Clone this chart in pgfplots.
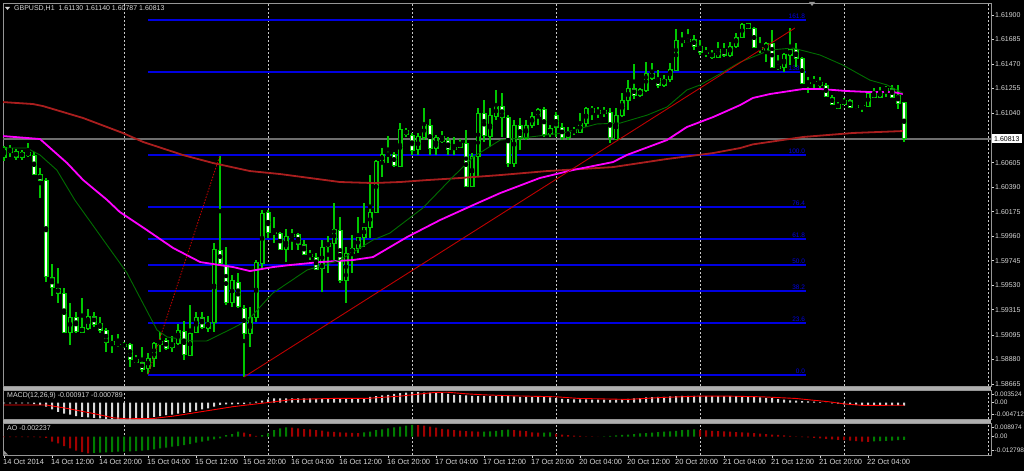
\documentclass[border=0pt]{standalone}
\usepackage{fontspec}
\setmainfont{Liberation Sans}
\usepackage{pgfplots}
\pgfplotsset{compat=1.18}
\usepackage{pgfplotstable}

\definecolor{cgreen}{RGB}{0,200,0}
\definecolor{magen}{RGB}{255,0,255}
\definecolor{maslow}{RGB}{170,30,30}
\definecolor{mafast}{RGB}{0,110,0}
\definecolor{fibblue}{RGB}{0,0,225}
\definecolor{trendred}{RGB}{190,0,0}
\definecolor{framegray}{RGB}{150,150,150}
\definecolor{sepgray}{RGB}{175,175,175}
\definecolor{gridgray}{RGB}{200,200,200}
\definecolor{txtgray}{RGB}{215,215,215}
\definecolor{bidgray}{RGB}{110,110,110}
\definecolor{aogreen}{RGB}{0,125,0}
\definecolor{aored}{RGB}{160,0,0}
\definecolor{macdbar}{RGB}{215,215,215}

% bearish candles (white body): i open high low close
\pgfplotstableread{
i o h l c
5 1.60733 1.60760 1.60654 1.60698
6 1.60707 1.60724 1.60628 1.60654
9 1.60672 1.60698 1.60496 1.60505
10 1.60505 1.60558 1.60294 1.60452
11 1.60452 1.60470 1.59558 1.59602
12 1.59602 1.59716 1.59435 1.59514
13 1.59505 1.59681 1.59374 1.59461
14 1.59461 1.59505 1.59111 1.59119
16 1.59251 1.59295 1.59111 1.59128
19 1.59260 1.59295 1.59163 1.59189
20 1.59198 1.59251 1.59111 1.59137
21 1.59137 1.59155 1.58944 1.59032
22 1.59032 1.59093 1.58935 1.59014
25 1.59014 1.59023 1.58812 1.58883
26 1.58883 1.58918 1.58848 1.58856
27 1.58856 1.58988 1.58769 1.58795
31 1.59049 1.59067 1.58962 1.58979
34 1.59128 1.59216 1.58874 1.58927
37 1.59251 1.59295 1.59146 1.59163
40 1.59839 1.60663 1.59698 1.59725
41 1.59707 1.59865 1.59356 1.59382
43 1.59558 1.59637 1.59330 1.59347
44 1.59330 1.59356 1.58725 1.59111
48 1.60172 1.60189 1.59944 1.59996
49 1.59996 1.60128 1.59900 1.59987
50 1.59987 1.59996 1.59839 1.59847
53 1.59979 1.59987 1.59839 1.59891
54 1.59891 1.59926 1.59795 1.59803
55 1.59803 1.59839 1.59751 1.59786
56 1.59777 1.59812 1.59663 1.59672
60 1.60014 1.60128 1.59549 1.59575
69 1.60681 1.60698 1.60566 1.60584
71 1.60891 1.60909 1.60830 1.60856
72 1.60847 1.60865 1.60672 1.60716
75 1.60935 1.60987 1.60672 1.60733
77 1.60830 1.60882 1.60777 1.60786
78 1.60803 1.60830 1.60672 1.60724
81 1.60777 1.60891 1.60391 1.60400
84 1.61040 1.61154 1.60786 1.60847
87 1.61101 1.61215 1.60830 1.61005
88 1.61005 1.61022 1.60566 1.60602
90 1.60935 1.60996 1.60716 1.60821
94 1.61075 1.61093 1.60830 1.60856
96 1.61022 1.61049 1.60830 1.60917
97 1.60917 1.60952 1.60803 1.60830
102 1.61084 1.61101 1.60979 1.61049
103 1.61066 1.61093 1.60996 1.61040
104 1.61058 1.61093 1.61005 1.61040
105 1.61049 1.61084 1.60777 1.60830
109 1.61259 1.61470 1.61163 1.61198
112 1.61391 1.61478 1.61329 1.61347
113 1.61347 1.61417 1.61259 1.61286
117 1.61680 1.61750 1.61619 1.61663
118 1.61689 1.61777 1.61654 1.61663
119 1.61689 1.61724 1.61593 1.61628
120 1.61628 1.61680 1.61549 1.61575
122 1.61566 1.61593 1.61514 1.61531
124 1.61601 1.61654 1.61531 1.61549
128 1.61821 1.61829 1.61777 1.61785
129 1.61785 1.61794 1.61610 1.61619
130 1.61619 1.61707 1.61566 1.61601
132 1.61654 1.61768 1.61435 1.61443
133 1.61452 1.61549 1.61417 1.61435
136 1.61601 1.61654 1.61443 1.61522
137 1.61522 1.61531 1.61294 1.61303
140 1.61312 1.61356 1.61259 1.61286
141 1.61286 1.61303 1.61180 1.61189
142 1.61180 1.61198 1.61110 1.61119
143 1.61119 1.61136 1.61075 1.61084
145 1.61154 1.61163 1.61084 1.61093
149 1.61215 1.61259 1.61172 1.61180
152 1.61259 1.61286 1.61172 1.61180
153 1.61198 1.61286 1.61075 1.61128
154 1.61130 1.61140 1.60787 1.60813
}\bear

% bullish candles (hollow body)
\pgfplotstableread{
i o h l c
4 1.60654 1.60751 1.60619 1.60742
7 1.60654 1.60716 1.60628 1.60698
8 1.60672 1.60777 1.60654 1.60698
15 1.59119 1.59374 1.59006 1.59251
17 1.59119 1.59417 1.59111 1.59155
18 1.59155 1.59321 1.59137 1.59260
23 1.59014 1.59102 1.58988 1.59014
24 1.58997 1.59032 1.58979 1.59014
28 1.58804 1.58935 1.58751 1.58891
29 1.58891 1.59032 1.58812 1.59023
30 1.59014 1.59119 1.58944 1.59041
32 1.58988 1.59084 1.58944 1.59023
33 1.59023 1.59189 1.59006 1.59137
35 1.58918 1.59356 1.58909 1.59111
36 1.59119 1.59295 1.59111 1.59251
38 1.59155 1.59260 1.59119 1.59207
39 1.59207 1.59900 1.59119 1.59847
42 1.59382 1.59619 1.59339 1.59575
45 1.59111 1.59339 1.58988 1.59251
46 1.59251 1.59751 1.59207 1.59733
47 1.59725 1.60189 1.59681 1.60163
51 1.59847 1.60023 1.59733 1.59953
52 1.59953 1.60023 1.59839 1.59979
57 1.59681 1.59926 1.59470 1.59865
58 1.59874 1.59961 1.59637 1.59900
59 1.59900 1.60251 1.59751 1.60023
61 1.59575 1.59865 1.59374 1.59812
62 1.59812 1.59970 1.59637 1.59856
63 1.59856 1.60128 1.59812 1.59953
64 1.59953 1.60251 1.59865 1.60040
65 1.60040 1.60496 1.59944 1.60172
66 1.60172 1.60628 1.60163 1.60619
67 1.60610 1.60733 1.60479 1.60681
68 1.60672 1.60838 1.60602 1.60681
70 1.60575 1.60952 1.60566 1.60900
73 1.60716 1.60865 1.60672 1.60830
74 1.60830 1.61084 1.60803 1.60944
76 1.60733 1.60847 1.60672 1.60830
79 1.60724 1.60830 1.60672 1.60742
80 1.60742 1.60812 1.60733 1.60777
82 1.60400 1.60689 1.60391 1.60663
83 1.60663 1.61084 1.60479 1.61040
85 1.60838 1.61084 1.60742 1.61022
86 1.61014 1.61242 1.60979 1.61101
89 1.60593 1.60979 1.60566 1.60935
91 1.60821 1.60979 1.60803 1.60935
92 1.60935 1.61049 1.60909 1.61014
93 1.61014 1.61084 1.60935 1.61075
95 1.60856 1.60935 1.60830 1.60909
98 1.60830 1.60917 1.60803 1.60873
99 1.60873 1.60917 1.60847 1.60891
100 1.60873 1.61040 1.60865 1.60952
101 1.60952 1.61093 1.60917 1.61084
106 1.60812 1.61084 1.60803 1.61022
107 1.61022 1.61215 1.61005 1.61154
108 1.61154 1.61329 1.61066 1.61259
110 1.61198 1.61259 1.61180 1.61242
111 1.61242 1.61487 1.61224 1.61391
114 1.61286 1.61373 1.61268 1.61338
115 1.61338 1.61478 1.61312 1.61426
116 1.61417 1.61777 1.61408 1.61680
121 1.61566 1.61619 1.61531 1.61575
123 1.61531 1.61663 1.61522 1.61593
125 1.61549 1.61663 1.61531 1.61628
126 1.61628 1.61742 1.61610 1.61707
127 1.61707 1.61829 1.61698 1.61821
131 1.61593 1.61663 1.61487 1.61654
134 1.61443 1.61566 1.61400 1.61549
135 1.61549 1.61785 1.61461 1.61601
138 1.61303 1.61356 1.61215 1.61312
139 1.61321 1.61364 1.61259 1.61321
144 1.61119 1.61172 1.61110 1.61154
146 1.61093 1.61119 1.61075 1.61110
147 1.61110 1.61128 1.61049 1.61110
148 1.61101 1.61224 1.61093 1.61215
150 1.61180 1.61268 1.61172 1.61233
151 1.61242 1.61277 1.61180 1.61259
}\bull

% MACD main line (histogram)
\pgfplotstableread{
i v
4 -0.0002
5 -0.0002
6 -0.0002
7 -0.0002
8 -0.0002
9 -0.0004
10 -0.0007
11 -0.0012
12 -0.0020
13 -0.0028
14 -0.0033
15 -0.0036
16 -0.0041
17 -0.0043
18 -0.0045
19 -0.0046
20 -0.0048
21 -0.0049
22 -0.0050
23 -0.0051
24 -0.0051
25 -0.0051
26 -0.0050
27 -0.0048
28 -0.0046
29 -0.0043
30 -0.0041
31 -0.0038
32 -0.0036
33 -0.0033
34 -0.0031
35 -0.0028
36 -0.0024
37 -0.0020
38 -0.0017
39 -0.0012
40 -0.0007
41 -0.0005
42 -0.0005
43 -0.0004
44 -0.0004
45 -0.0002
46 0.0003
47 0.0006
48 0.0010
49 0.0013
50 0.0013
51 0.0013
52 0.0013
53 0.0013
54 0.0013
55 0.0013
56 0.0012
57 0.0012
58 0.0011
59 0.0012
60 0.0011
61 0.0011
62 0.0012
63 0.0012
64 0.0014
65 0.0018
66 0.0020
67 0.0022
68 0.0024
69 0.0027
70 0.0029
71 0.0031
72 0.0032
73 0.0032
74 0.0031
75 0.0031
76 0.0030
77 0.0029
78 0.0027
79 0.0024
80 0.0023
81 0.0022
82 0.0021
83 0.0020
84 0.0020
85 0.0020
86 0.0020
87 0.0020
88 0.0020
89 0.0019
90 0.0018
91 0.0018
92 0.0018
93 0.0018
94 0.0017
95 0.0016
96 0.0014
97 0.0012
98 0.0011
99 0.0010
100 0.0010
101 0.0010
102 0.0009
103 0.0009
104 0.0009
105 0.0008
106 0.0009
107 0.0010
108 0.0012
109 0.0013
110 0.0014
111 0.0016
112 0.0017
113 0.0018
114 0.0018
115 0.0019
116 0.0020
117 0.0021
118 0.0021
119 0.0021
120 0.0021
121 0.0020
122 0.0020
123 0.0020
124 0.0020
125 0.0020
126 0.0020
127 0.0020
128 0.0019
129 0.0017
130 0.0016
131 0.0015
132 0.0014
133 0.0011
134 0.0009
135 0.0007
136 0.0006
137 0.0005
138 0.0004
139 0.0003
140 0.0002
141 0.0000
142 -0.0002
143 -0.0003
144 -0.0005
145 -0.0006
146 -0.0007
147 -0.0008
148 -0.0008
149 -0.0008
150 -0.0008
151 -0.0008
152 -0.0008
153 -0.0008
154 -0.000917
}\macd

% Awesome oscillator, rising bars
\pgfplotstableread{
i v
19 -0.0110
20 -0.0108
21 -0.0107
22 -0.0104
23 -0.0102
24 -0.0101
25 -0.0100
26 -0.0098
27 -0.0095
28 -0.0091
29 -0.0086
30 -0.0079
31 -0.0075
32 -0.0068
33 -0.0064
34 -0.0057
35 -0.0050
36 -0.0041
37 -0.0034
38 -0.0027
39 -0.0018
40 -0.0011
41 0.0011
42 0.0018
43 0.0034
47 0.0011
48 0.0023
49 0.0045
50 0.0057
51 0.0064
64 0.0030
65 0.0034
66 0.0045
67 0.0050
68 0.0057
69 0.0064
70 0.0068
71 0.0075
72 0.0080
84 0.0035
85 0.0036
86 0.0040
87 0.0045
88 0.0048
94 0.0028
95 0.0029
104 0.0003
105 0.0006
106 0.0009
107 0.0012
108 0.0015
109 0.0018
110 0.0022
111 0.0025
112 0.0028
113 0.0031
114 0.0034
115 0.0037
116 0.0040
117 0.0044
118 0.0047
119 0.0050
149 -0.0032
150 -0.0030
151 -0.0028
152 -0.0026
153 -0.0024
154 -0.002237
}\aoup

% Awesome oscillator, falling bars
\pgfplotstableread{
i v
4 -0.0003
5 -0.0003
6 -0.0003
7 -0.0003
8 -0.0003
9 -0.0003
10 -0.0004
11 -0.0008
12 -0.0034
13 -0.0045
14 -0.0064
15 -0.0079
16 -0.0095
17 -0.0104
18 -0.0113
44 0.0027
45 0.0018
46 0.0005
52 0.0061
53 0.0057
54 0.0052
55 0.0050
56 0.0045
57 0.0041
58 0.0034
59 0.0033
60 0.0030
61 0.0027
62 0.0026
63 0.0025
73 0.0079
74 0.0075
75 0.0068
76 0.0061
77 0.0054
78 0.0050
79 0.0045
80 0.0041
81 0.0038
82 0.0036
83 0.0034
89 0.0045
90 0.0041
91 0.0038
92 0.0030
93 0.0027
96 0.0020
97 0.0015
98 0.0010
99 0.0007
100 0.0005
101 0.0003
102 0.0002
103 0.0001
120 0.0046
121 0.0043
122 0.0040
123 0.0038
124 0.0036
125 0.0034
126 0.0032
127 0.0030
128 0.0027
129 0.0024
130 0.0021
131 0.0018
132 0.0015
133 0.0012
134 0.0009
135 0.0006
136 0.0002
137 -0.0002
138 -0.0005
139 -0.0008
140 -0.0012
141 -0.0015
142 -0.0018
143 -0.0021
144 -0.0024
145 -0.0027
146 -0.0030
147 -0.0033
148 -0.0035
}\aodown

\pgfplotsset{
  mtpanel/.style={
    anchor=south west, scale only axis, width=988pt,
    xmin=3.833, xmax=168.5,
    axis line style={draw=framegray, line width=0.8pt},
    xtick style={draw=none},
    scaled y ticks=false,
    ytick pos=right, yticklabel pos=right,
    ytick style={draw=txtgray, line width=0.6pt},
    tick align=outside, major tick length=3pt,
    yticklabel style={font=\fontsize{7}{8}\selectfont, text=txtgray, inner sep=0pt, xshift=1pt},
    grid style={draw=gridgray, line width=0.8pt, dash pattern=on 2pt off 2pt},
  },
  wick/.style={only marks, mark=none, forget plot,
    error bars/.cd, y dir=both, y explicit, error mark=none,
    error bar style={cgreen, line width=1.1pt}},
  body/.style 2 args={only marks, mark=none, forget plot,
    error bars/.cd, y dir=both, y explicit, error mark=none,
    error bar style={#1, line width=#2}},
  fib/.style={fibblue, line width=1.6pt},
}

\begin{document}
\begin{tikzpicture}[x=1pt, y=1pt]
\fill[black] (0,0) rectangle (1024,471);

% ---- price window ----
\begin{axis}[mtpanel,
  at={(3pt,85pt)}, height=383pt,
  ymin=1.58646, ymax=1.62005,
  xtick={24,48,72,96,120,144,168}, xticklabels={}, xmajorgrids,
  ytick={1.619,1.61685,1.6147,1.61255,1.6104,1.60605,1.6039,1.60175,1.5996,1.59745,1.5953,1.59315,1.59095,1.5888,1.58665},
  yticklabels={1.61900,1.61685,1.61470,1.61255,1.61040,1.60605,1.60390,1.60175,1.59960,1.59745,1.59530,1.59315,1.59095,1.58880,1.58665},
]
% bid line
\addplot[bidgray, line width=1.4pt] coordinates {(3.833,1.60813) (168.5,1.60813)};

% fibonacci levels
\addplot[fib] coordinates {(28,1.61857) (137.7,1.61857)};
\addplot[fib] coordinates {(28,1.61400) (137.7,1.61400)};
\addplot[fib] coordinates {(28,1.60672) (137.7,1.60672)};
\addplot[fib] coordinates {(28,1.60214) (137.7,1.60214)};
\addplot[fib] coordinates {(28,1.59933) (137.7,1.59933)};
\addplot[fib] coordinates {(28,1.59707) (137.7,1.59707)};
\addplot[fib] coordinates {(28,1.59480) (137.7,1.59480)};
\addplot[fib] coordinates {(28,1.59199) (137.7,1.59199)};
\addplot[fib] coordinates {(28,1.58745) (137.7,1.58745)};
\begin{scope}[every node/.style={fibblue, anchor=south east, inner sep=1pt, font=\fontsize{6.5}{7}\selectfont}]
\node at (axis cs:137.7,1.61857) {161.8};
\node at (axis cs:137.7,1.61400) {138.2};
\node at (axis cs:137.7,1.60672) {100.0};
\node at (axis cs:137.7,1.60214) {76.4};
\node at (axis cs:137.7,1.59933) {61.8};
\node at (axis cs:137.7,1.59707) {50.0};
\node at (axis cs:137.7,1.59480) {38.2};
\node at (axis cs:137.7,1.59199) {23.6};
\node at (axis cs:137.7,1.58745) {0.0};
\end{scope}

% candles: wicks, outlines, fills
\addplot[wick] table[x=i, y expr={(\thisrow{h}+\thisrow{l})/2}, y error expr={(\thisrow{h}-\thisrow{l})/2}] {\bear};
\addplot[wick] table[x=i, y expr={(\thisrow{h}+\thisrow{l})/2}, y error expr={(\thisrow{h}-\thisrow{l})/2}] {\bull};
\addplot[body={cgreen}{5pt}] table[x=i, y expr={(\thisrow{o}+\thisrow{c})/2}, y error expr={abs(\thisrow{o}-\thisrow{c})/2+0.000044}] {\bear};
\addplot[body={cgreen}{5pt}] table[x=i, y expr={(\thisrow{o}+\thisrow{c})/2}, y error expr={abs(\thisrow{o}-\thisrow{c})/2+0.000044}] {\bull};
\addplot[body={white}{2.8pt}] table[x=i, y expr={(\thisrow{o}+\thisrow{c})/2}, y error expr={max(abs(\thisrow{o}-\thisrow{c})/2-0.000044,0)}] {\bear};
\addplot[body={black}{2.8pt}] table[x=i, y expr={(\thisrow{o}+\thisrow{c})/2}, y error expr={max(abs(\thisrow{o}-\thisrow{c})/2-0.000044,0)}] {\bull};

% slow MA
\addplot[maslow, line width=1.8pt] coordinates {
(3.83,1.61136) (8.8,1.61119) (10.5,1.61101) (17.2,1.60996) (23.8,1.60865) (27.2,1.60786)
(33.8,1.60672) (38.8,1.60602) (45,1.60531) (50,1.60505) (60,1.60435) (65.5,1.60426)
(70,1.60435) (74.5,1.60452) (80,1.60470) (86.7,1.60496) (94.5,1.60531) (105.5,1.60566)
(114.5,1.60637) (122.2,1.60689) (126.7,1.60733) (128.8,1.60765) (137.2,1.60830)
(145.5,1.60865) (153.8,1.60882)};
% middle MA
\addplot[magen, line width=1.8pt] coordinates {
(3.83,1.60838) (10,1.60812) (14.5,1.60602) (17.2,1.60452) (21.2,1.60277) (23.3,1.60172)
(27.8,1.60014) (32.2,1.59856) (36.7,1.59733) (38.8,1.59716) (42.2,1.59689) (45,1.59654)
(48.8,1.59689) (51.7,1.59707) (56.7,1.59733) (62.2,1.59751) (65.5,1.59777) (71.2,1.59953)
(76.7,1.60102) (82.2,1.60233) (86.7,1.60338) (93.3,1.60470) (98.8,1.60540) (105.5,1.60610)
(107.8,1.60672) (114.5,1.60803) (117.8,1.60917) (122.2,1.61005) (126.7,1.61110)
(128.8,1.61172) (131.7,1.61207) (137.2,1.61251) (140,1.61251) (144.5,1.61233)
(148.3,1.61224) (152.2,1.61224) (153.8,1.61207)};
% fast MA
\addplot[mafast, line width=0.9pt] coordinates {
(4,1.60733) (7.8,1.60733) (10,1.60672) (12.8,1.60540) (15.8,1.60277) (24.5,1.59637)
(29.5,1.59137) (31.2,1.59076) (35.5,1.59041) (37.8,1.59041) (42.2,1.59155) (44.7,1.59225)
(48.8,1.59461) (54.5,1.59663) (60,1.59751) (65.5,1.59926) (68.3,1.59987) (73.8,1.60207)
(78.8,1.60479) (82.2,1.60654) (86.7,1.60803) (91.7,1.60830) (97.2,1.60865) (102.8,1.60944)
(106.7,1.60952) (111.2,1.61022) (114.5,1.61093) (117.8,1.61242) (120,1.61286)
(123.3,1.61382) (126.7,1.61487) (131.7,1.61593) (135.5,1.61610) (140,1.61549)
(143.8,1.61461) (148.3,1.61329) (151.2,1.61286) (153.8,1.61215)};

% trend lines
\addplot[trendred, line width=0.9pt, dash pattern=on 1.5pt off 1.5pt] coordinates {(28,1.58745) (40,1.60672)};
\addplot[trendred, line width=0.9pt] coordinates {(44,1.58725) (135.8,1.61785)};
\end{axis}

% ---- MACD window ----
\begin{axis}[mtpanel,
  at={(3pt,52pt)}, height=29pt,
  ymin=-0.00497, ymax=0.00387,
  xtick={24,48,72,96,120,144,168}, xticklabels={}, xmajorgrids,
  ytick={0.00265,0,-0.00355}, yticklabels={0.003524,0.00,-0.004712},
  yticklabel style={font=\fontsize{6.5}{7}\selectfont, xshift=-0.5pt},
]
\addplot[ybar, bar width=2pt, bar shift=0pt, draw=none, fill=macdbar] table[x=i, y=v] {\macd};
\addplot[red, line width=0.9pt] coordinates {
(4,-0.0007) (11,-0.0007) (14.4,-0.0017) (18.9,-0.0033) (22.2,-0.0046) (24.4,-0.0049)
(28.9,-0.0048) (32.2,-0.0041) (36.7,-0.0028) (42.2,-0.0012) (47.8,0.0000) (52.2,0.0010)
(58.9,0.0013) (64.4,0.0013) (70,0.0020) (75.6,0.0031) (77.8,0.0032) (81.1,0.0027)
(83.9,0.0024) (88.7,0.0021) (96,0.0018) (99.8,0.0013) (108,0.0010) (113.7,0.0016)
(119.8,0.0020) (124.8,0.0020) (130.3,0.0018) (135.9,0.0013) (141.4,0.0003)
(144.2,-0.0004) (147,-0.0008) (154,-0.000789)};
\end{axis}

% ---- AO window ----
\begin{axis}[mtpanel,
  at={(3pt,16pt)}, height=32pt,
  ymin=-0.01244, ymax=0.00932,
  xtick={4,12,20,28,36,44,52,60,68,76,84,92,100,108,116,124,132,140,148},
  xticklabels={14 Oct 2014,14 Oct 12:00,14 Oct 20:00,15 Oct 04:00,15 Oct 12:00,15 Oct 20:00,16 Oct 04:00,16 Oct 12:00,16 Oct 20:00,17 Oct 04:00,17 Oct 12:00,17 Oct 20:00,20 Oct 04:00,20 Oct 12:00,20 Oct 20:00,21 Oct 04:00,21 Oct 12:00,21 Oct 20:00,22 Oct 04:00},
  xtick pos=left, xtick style={draw=txtgray, line width=0.6pt},
  xticklabel style={font=\fontsize{7.5}{8}\selectfont, text=txtgray, anchor=north west, inner sep=0pt, xshift=-1pt, yshift=-1pt},
  minor xtick={24,48,72,96,120,144,168}, xminorgrids, minor tick length=0pt,
  minor grid style={draw=gridgray, line width=0.8pt, dash pattern=on 2pt off 2pt},
  ytick={0.0066,0,-0.0095}, yticklabels={0.008974,0.00,-0.012798},
  yticklabel style={font=\fontsize{6.5}{7}\selectfont, xshift=-0.5pt},
]
\addplot[ybar, bar width=2pt, bar shift=0pt, draw=none, fill=aogreen] table[x=i, y=v] {\aoup};
\addplot[ybar, bar width=2pt, bar shift=0pt, draw=none, fill=aored] table[x=i, y=v] {\aodown};
\end{axis}

% window separators and labels
\fill[sepgray] (3,81.5) rectangle (991,84.5);
\fill[sepgray] (3,48.5) rectangle (991,51.5);
\fill[framegray] (4,16.5) -- (4,20.5) -- (8,16.5) -- cycle;
\fill[txtgray] (5,464) -- (10,464) -- (7.5,461) -- cycle;
\node[anchor=west, inner sep=0pt, text=txtgray, font=\fontsize{7}{8}\selectfont] at (14,462) {GBPUSD,H1\ \ 1.61130 1.61140 1.60787 1.60813};
\node[anchor=west, inner sep=0pt, text=txtgray, font=\fontsize{7}{8}\selectfont] at (7,75) {MACD(12,26,9) -0.000917 -0.000789};
\node[anchor=west, inner sep=0pt, text=txtgray, font=\fontsize{7}{8}\selectfont] at (7,43) {AO -0.002237};
\fill[framegray] (809,469) -- (815,469) -- (812,465) -- cycle;
\fill[white] (992,327.5) rectangle (1022,336.5);
\node[anchor=west, inner sep=0pt, text=black, font=\fontsize{7}{8}\selectfont] at (994,332) {1.60813};

\pgfresetboundingbox
\path[use as bounding box] (0,0) rectangle (1024,471);
\end{tikzpicture}
\end{document}
